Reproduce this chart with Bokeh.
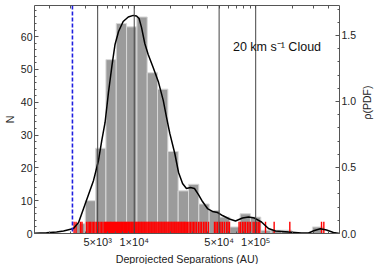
import math
from bokeh.plotting import figure
from bokeh.models import (FixedTicker, LinearAxis, LogAxis, Range1d, Span, Label,
                          CustomJSTickFormatter, ColumnDataSource)
from bokeh.embed import file_html
from bokeh.resources import INLINE

# ---- data (separations in AU, stored as log10) ----
bin_edges_log10 = [3.512, 3.597, 3.682, 3.767, 3.852, 3.937, 4.022, 4.107, 4.192,
                   4.277, 4.362, 4.447, 4.532, 4.617, 4.702, 4.787, 4.872, 4.957,
                   5.042, 5.127, 5.212, 5.297, 5.382, 5.467, 5.552]
counts = [3, 10, 26, 53, 64, 63, 66, 49, 44, 25, 13, 15, 9, 7, 5, 2, 6, 5, 1, 1, 1, 0, 0, 2, 1]

kde_log10 = [3.179, 3.278, 3.361, 3.418, 3.500, 3.542, 3.583, 3.624, 3.665, 3.706,
             3.733, 3.760, 3.788, 3.817, 3.842, 3.871, 3.909, 3.951, 3.992, 4.019,
             4.040, 4.060, 4.087, 4.115, 4.156, 4.198, 4.239, 4.266, 4.293, 4.334,
             4.365, 4.398, 4.430, 4.463, 4.496, 4.529, 4.562, 4.603, 4.644, 4.686,
             4.727, 4.784, 4.834, 4.891, 4.941, 4.990, 5.048, 5.105, 5.163, 5.270,
             5.377, 5.435, 5.484, 5.533, 5.583, 5.640, 5.690]
kde_pdf = [0.002, 0.005, 0.011, 0.019, 0.038, 0.083, 0.189, 0.295, 0.402, 0.553,
           0.705, 0.841, 1.068, 1.273, 1.432, 1.530, 1.606, 1.640, 1.652, 1.648,
           1.629, 1.561, 1.439, 1.356, 1.258, 1.152, 1.008, 0.879, 0.758, 0.606,
           0.462, 0.379, 0.341, 0.348, 0.341, 0.295, 0.242, 0.189, 0.167, 0.159,
           0.136, 0.110, 0.095, 0.117, 0.125, 0.117, 0.087, 0.038, 0.019, 0.011,
           0.004, 0.004, 0.023, 0.036, 0.027, 0.008, 0.000]

rug_log10 = [3.505, 3.521, 3.558, 3.570, 3.607, 3.620, 3.632, 3.640, 3.653, 3.665,
             3.677, 3.690, 3.706, 3.719, 3.731, 3.743, 3.756,
             3.764, 3.773, 3.780, 3.789, 3.798, 3.806, 3.813, 3.822, 3.831, 3.839,
             3.846, 3.855, 3.864, 3.871, 3.880, 3.889, 3.896, 3.905, 3.914, 3.921,
             3.930, 3.938, 3.947, 3.954, 3.963, 3.972, 3.979, 3.988, 3.997, 4.004,
             4.013, 4.021, 4.030, 4.037, 4.046, 4.055, 4.062, 4.071, 4.080, 4.087,
             4.096, 4.104, 4.113, 4.120, 4.129, 4.138, 4.145, 4.154, 4.163, 4.170,
             4.179, 4.187, 4.196, 4.203, 4.212, 4.221, 4.228, 4.237, 4.246, 4.253,
             4.262, 4.270, 4.279, 4.286, 4.295, 4.304, 4.311, 4.320, 4.329, 4.336,
             4.345, 4.353, 4.362, 4.369, 4.378, 4.387, 4.394, 4.403, 4.412, 4.419,
             4.428,
             4.439, 4.451, 4.463, 4.476, 4.488, 4.500, 4.513, 4.529, 4.542, 4.554,
             4.570, 4.583, 4.595, 4.612, 4.661, 4.673, 4.686, 4.702, 4.714, 4.727,
             4.743, 4.760, 4.772, 4.784, 4.863, 4.875, 4.891, 4.904, 4.916, 4.932,
             4.945, 4.957, 4.979, 4.993, 5.007, 5.021, 5.034, 5.081, 5.152, 5.281,
             5.542, 5.561]

x_tick_values = [5000, 10000, 50000, 100000]
x_tick_labels = ["5×10³", "1×10⁴", "5×10⁴", "1×10⁵"]
x_minor_ticks = [2000, 3000, 4000, 5000, 6000, 7000, 8000, 9000,
                 10000, 20000, 30000, 40000, 50000, 60000, 70000, 80000, 90000,
                 100000, 200000, 300000, 400000, 500000]
guide_lines = [5000, 10000, 50000, 100000]
jeans_length = 3100
y_ticks = [0, 10, 20, 30, 40, 50, 60]
y_minor_ticks = list(range(0, 70, 2))
pdf_ticks = [0.0, 0.5, 1.0, 1.5]
pdf_minor_ticks = [i / 10 for i in range(0, 18)]
annotation = "20 km s⁻¹ Cloud"
right_label = "ρ(PDF)"

# ---- figure ----
FONT = "Liberation Sans"
p = figure(frame_width=305, frame_height=228, x_axis_type="log",
           x_range=Range1d(10 ** 3.179, 10 ** 5.69), y_range=Range1d(0, 69.5),
           output_backend="svg", toolbar_location=None,
           min_border_left=33, min_border_right=34, min_border_top=5, min_border_bottom=0)
p.extra_y_ranges = {"pdf": Range1d(0, 1.727)}
p.outline_line_color = None
p.xgrid.visible = False
p.ygrid.visible = False
p.background_fill_color = "white"
p.border_fill_color = "white"

hist = ColumnDataSource(dict(
    left=[10 ** v for v in bin_edges_log10[:-1]],
    right=[10 ** v for v in bin_edges_log10[1:]],
    top=counts))
p.quad(left="left", right="right", top="top", bottom=0, source=hist,
       fill_color="#9b9b9b", line_color="#d8d8d8", line_width=1)

rug_x = [10 ** v for v in rug_log10]
p.segment(x0=rug_x, x1=rug_x, y0=[0] * len(rug_x), y1=[3.6] * len(rug_x),
          line_color="#ff0000", line_width=1.4)

for g in guide_lines:
    p.add_layout(Span(location=g, dimension="height", line_color="#444444", line_width=1))

p.line([10 ** v for v in kde_log10], kde_pdf, y_range_name="pdf",
       line_color="black", line_width=1.5)

p.add_layout(Span(location=jeans_length, dimension="height", line_color="#1f1fe0",
                  line_width=1.6, line_dash="4 2"))

p.add_layout(Label(x=10 ** 4.813, y=57.0, text=annotation, text_font=FONT,
                   text_font_size="12.5px", text_baseline="middle", text_color="#111111"))

fmt = CustomJSTickFormatter(args=dict(vals=x_tick_values, labs=x_tick_labels), code="""
for (let i = 0; i < vals.length; i++) { if (Math.abs(vals[i] - tick) < 1e-6 * vals[i]) return labs[i]; }
return '';
""")


def style(ax):
    ax.axis_line_color = "#555555"
    ax.major_tick_line_color = "#555555"
    ax.minor_tick_line_color = "#555555"
    ax.major_tick_in = 4
    ax.major_tick_out = 0
    ax.minor_tick_in = 2
    ax.minor_tick_out = 0
    ax.major_label_text_font = FONT
    ax.major_label_text_font_size = "10.5px"
    ax.major_label_text_color = "#222222"
    ax.axis_label_text_font = FONT
    ax.axis_label_text_font_size = "10.7px"
    ax.axis_label_text_font_style = "normal"
    ax.axis_label_text_color = "#222222"
    ax.major_label_standoff = 2
    ax.axis_label_standoff = 2


xa = p.xaxis[0]
xa.ticker = FixedTicker(ticks=x_tick_values, minor_ticks=x_minor_ticks)
xa.formatter = fmt
xa.axis_label = "Deprojected Separations (AU)"
style(xa)
xa.major_label_text_font_size = "11px"

ya = p.yaxis[0]
ya.ticker = FixedTicker(ticks=y_ticks, minor_ticks=y_minor_ticks)
ya.axis_label = "N"
style(ya)

top = LogAxis(ticker=FixedTicker(ticks=[], minor_ticks=x_minor_ticks))
style(top)
top.minor_tick_in = 3
p.add_layout(top, "above")

ra = LinearAxis(y_range_name="pdf",
                ticker=FixedTicker(ticks=pdf_ticks, minor_ticks=pdf_minor_ticks),
                axis_label=right_label)
style(ra)
ra.axis_label_text_font_size = "10.5px"
ra.axis_label_standoff = 8
ra.formatter = CustomJSTickFormatter(code="return tick.toFixed(1);")
if "axis_label_orientation" in ra.properties():
    ra.axis_label_orientation = math.pi / 2
p.add_layout(ra, "right")

open("out.html", "w").write(file_html(p, INLINE))
